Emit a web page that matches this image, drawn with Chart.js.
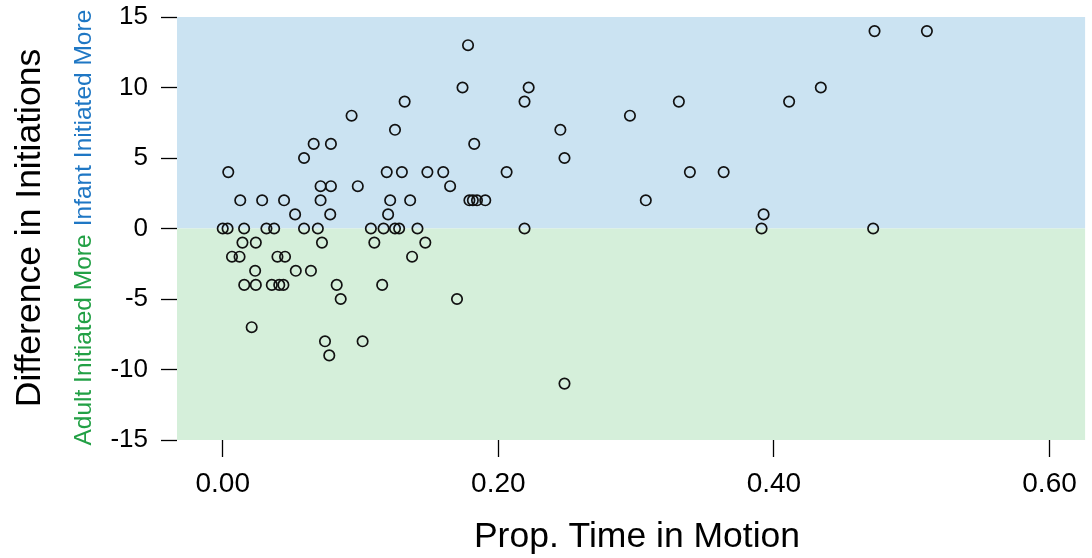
<!DOCTYPE html>
<html>
<head>
<meta charset="utf-8">
<title>Difference in Initiations vs Prop. Time in Motion</title>
<script src="https://cdn.jsdelivr.net/npm/chart.js@4.4.1/dist/chart.umd.min.js"></script>
<style>
	html, body { margin: 0; padding: 0; background: #ffffff; }
	#wrap { width: 1092px; height: 558px; }
</style>
</head>
<body>
<div id="wrap"><canvas id="scatterChart" width="1092" height="558"></canvas></div>
<script>
// proportion of time in motion (x) and difference in initiations (y), one entry per observation
const propMotion = [
	0.473, 0.511,
	0.178,
	0.174, 0.222, 0.434,
	0.132, 0.219, 0.331, 0.411,
	0.0935, 0.2955,
	0.125, 0.245,
	0.066, 0.0785, 0.1825,
	0.059, 0.248,
	0.004, 0.119, 0.130, 0.1485, 0.160, 0.206, 0.339, 0.3635,
	0.071, 0.0785, 0.098, 0.165,
	0.0127, 0.0286, 0.0445, 0.071, 0.1215, 0.136, 0.179, 0.1815, 0.1845, 0.1905, 0.307,
	0.0525, 0.078, 0.120, 0.3925,
	0.000, 0.0035, 0.0155, 0.0317, 0.0373, 0.059, 0.069, 0.1075, 0.1167, 0.125, 0.128, 0.1413, 0.219, 0.391, 0.472,
	0.0143, 0.024, 0.072, 0.110, 0.147,
	0.0067, 0.0122, 0.0397, 0.0452, 0.1374,
	0.0235, 0.053, 0.064,
	0.0156, 0.024, 0.0356, 0.041, 0.044, 0.0827, 0.1157,
	0.0856, 0.170,
	0.021,
	0.0742, 0.1015,
	0.0773,
	0.248,
];
const diffInit = [
	14, 14,
	13,
	10, 10, 10,
	9, 9, 9, 9,
	8, 8,
	7, 7,
	6, 6, 6,
	5, 5,
	4, 4, 4, 4, 4, 4, 4, 4,
	3, 3, 3, 3,
	2, 2, 2, 2, 2, 2, 2, 2, 2, 2, 2,
	1, 1, 1, 1,
	0, 0, 0, 0, 0, 0, 0, 0, 0, 0, 0, 0, 0, 0, 0,
	-1, -1, -1, -1, -1,
	-2, -2, -2, -2, -2,
	-3, -3, -3,
	-4, -4, -4, -4, -4, -4, -4,
	-5, -5,
	-7,
	-8, -8,
	-9,
	-11,
];
const xTicks = [0, 0.2, 0.4, 0.6];
const yTicks = [-15, -10, -5, 0, 5, 10, 15];

const FONT = '"Liberation Sans", Arial, Helvetica, sans-serif';

// shaded halves above / below zero
const bandPlugin = {
	id: "bands",
	beforeDatasetsDraw(chart) {
		const { ctx, chartArea, scales } = chart;
		const zero = scales.y.getPixelForValue(0);
		ctx.save();
		ctx.fillStyle = "#cbe3f2";
		ctx.fillRect(chartArea.left, chartArea.top, chartArea.right - chartArea.left, zero - chartArea.top);
		ctx.fillStyle = "#d5efda";
		ctx.fillRect(chartArea.left, zero, chartArea.right - chartArea.left, chartArea.bottom - zero);
		ctx.restore();
	},
};

// axis titles drawn by hand to place them like the original
function rotatedText(ctx, text, x, y, size, color) {
	ctx.save();
	ctx.translate(x, y);
	ctx.rotate(-Math.PI / 2);
	ctx.font = size + "px " + FONT;
	ctx.fillStyle = color;
	ctx.fillText(text, 0, 0);
	ctx.restore();
}

const titlePlugin = {
	id: "titles",
	afterDraw(chart) {
		const { ctx } = chart;
		ctx.save();
		ctx.fillStyle = "#000";
		ctx.textAlign = "center";
		ctx.textBaseline = "middle";
		ctx.font = "35.5px " + FONT;
		ctx.fillText("Prop. Time in Motion", 637, 537);

		rotatedText(ctx, "Difference in Initiations", 30, 228, 35.5, "#000");
		rotatedText(ctx, "Infant Initiated More", 84, 118, 24.5, "#1f77c4");
		rotatedText(ctx, "Adult Initiated More", 84, 340, 24.5, "#22a045");
		ctx.restore();
	},
};

new Chart("scatterChart", {
	type: "scatter",
	data: {
		datasets: [
			{
				data: propMotion.map((x, i) => ({ x: x, y: diffInit[i] })),
				pointRadius: 5.2,
				pointBorderWidth: 1.7,
				pointBorderColor: "#111",
				pointBackgroundColor: "rgba(0,0,0,0)",
				pointHoverRadius: 5.2,
			},
		],
	},
	options: {
		responsive: false,
		animation: false,
		layout: {
			padding: { top: 17, right: 5, left: 0, bottom: 0 },
		},
		plugins: {
			legend: { display: false },
			tooltip: { enabled: false },
		},
		scales: {
			x: {
				type: "linear",
				min: -0.0332,
				max: 0.6258,
				afterBuildTicks: (scale) => {
					scale.ticks = xTicks.map((v) => ({ value: v }));
				},
				afterFit: (scale) => {
					scale.height = 118;
					scale.paddingLeft = 0;
					scale.paddingRight = 0;
				},
				border: { display: false },
				grid: {
					drawOnChartArea: false,
					drawTicks: true,
					tickLength: 17,
					tickColor: "#000",
					tickWidth: 1.3,
				},
				ticks: {
					padding: 10,
					color: "#000",
					maxRotation: 0,
					font: { family: FONT, size: 28 },
					callback: (v) => Number(v).toFixed(2),
				},
			},
			y: {
				type: "linear",
				min: -15,
				max: 15,
				afterBuildTicks: (scale) => {
					scale.ticks = yTicks.map((v) => ({ value: v }));
				},
				afterFit: (scale) => {
					scale.width = 177;
					scale.paddingTop = 0;
					scale.paddingBottom = 0;
				},
				border: { display: false },
				grid: {
					drawOnChartArea: false,
					drawTicks: true,
					tickLength: 16,
					tickColor: "#000",
					tickWidth: 1.3,
				},
				ticks: {
					padding: 13,
					color: "#000",
					font: { family: FONT, size: 26 },
				},
			},
		},
	},
	plugins: [bandPlugin, titlePlugin],
});
</script>
</body>
</html>
